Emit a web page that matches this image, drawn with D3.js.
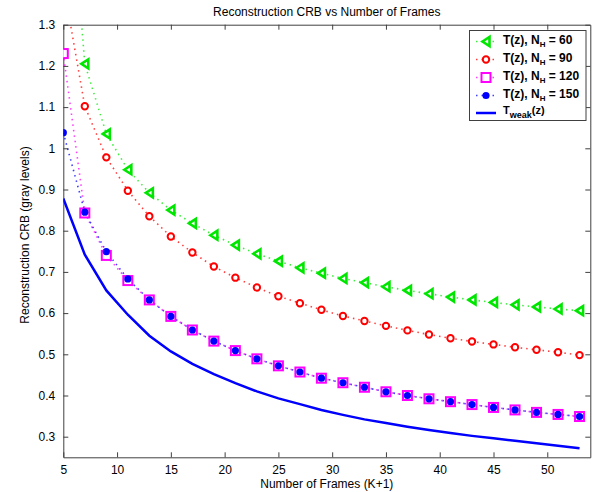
<!DOCTYPE html>
<meta charset="utf-8">
<style>
body { margin: 0; background: #fff; }
svg text { font-family: "Liberation Sans", Arial, sans-serif; fill: #000; }
.axis path, .axis line { stroke: #404040; }
.axis text { font-size: 12px; }
</style>
<svg width="598" height="492"></svg>
<script src="https://d3js.org/d3.v7.min.js"></script>
<script>
// data
const frames = [5, 7, 9, 11, 13, 15, 17, 19, 21, 23, 25, 27, 29, 31, 33, 35, 37, 39, 41, 43, 45, 47, 49, 51, 53];
const nh60  = [1.85, 1.205, 1.035, 0.948, 0.892, 0.850, 0.818, 0.789, 0.765, 0.744, 0.726, 0.710, 0.697, 0.684, 0.674, 0.664, 0.655, 0.647, 0.639, 0.632, 0.626, 0.620, 0.615, 0.610, 0.606];
const nh90  = [1.40, 1.102, 0.978, 0.897, 0.835, 0.786, 0.747, 0.713, 0.686, 0.662, 0.641, 0.624, 0.608, 0.593, 0.581, 0.569, 0.558, 0.548, 0.539, 0.531, 0.524, 0.517, 0.511, 0.505, 0.498];
const nh120 = [1.23, 0.843, 0.740, 0.679, 0.632, 0.592, 0.559, 0.532, 0.509, 0.489, 0.472, 0.457, 0.442, 0.431, 0.420, 0.409, 0.400, 0.392, 0.385, 0.378, 0.371, 0.365, 0.359, 0.354, 0.349];
const nh150 = [1.038, 0.845, 0.749, 0.683, 0.632, 0.592, 0.559, 0.532, 0.509, 0.489, 0.472, 0.457, 0.442, 0.431, 0.420, 0.409, 0.400, 0.392, 0.385, 0.378, 0.371, 0.365, 0.359, 0.354, 0.349];
const weak  = [0.878, 0.742, 0.655, 0.596, 0.545, 0.507, 0.477, 0.452, 0.430, 0.410, 0.393, 0.379, 0.365, 0.353, 0.342, 0.333, 0.324, 0.316, 0.309, 0.302, 0.296, 0.290, 0.284, 0.278, 0.272];
const xTicks = [5, 10, 15, 20, 25, 30, 35, 40, 45, 50];
const yTicks = [0.3, 0.4, 0.5, 0.6, 0.7, 0.8, 0.9, 1, 1.1, 1.2, 1.3];

const series = [
  {name: "60",  values: nh60,  color: "#00e600", marker: "tri"},
  {name: "90",  values: nh90,  color: "#ff0000", marker: "circle"},
  {name: "120", values: nh120, color: "#ff00ff", marker: "square"},
  {name: "150", values: nh150, color: "#0000ff", marker: "dot"}
];

const svg = d3.select("svg");
const pLeft = 63.3, pRight = 590.3, pTop = 24.7, pBottom = 457.3;

const x = d3.scaleLinear().domain([5, 54]).range([pLeft, pRight]);
const y = d3.scaleLinear().domain([0.25, 1.3]).range([pBottom, pTop]);

svg.append("defs").append("clipPath").attr("id", "clip")
  .append("rect").attr("x", pLeft).attr("y", pTop).attr("width", pRight - pLeft).attr("height", pBottom - pTop);

// axes, matlab style box with inward ticks
svg.append("g").attr("class", "axis").attr("transform", "translate(0," + pBottom + ")")
  .call(d3.axisBottom(x).tickValues(xTicks).tickSizeInner(-5).tickSizeOuter(0).tickPadding(8).tickFormat(d3.format("d")));
svg.append("g").attr("class", "axis").attr("transform", "translate(" + pLeft + ",0)")
  .call(d3.axisLeft(y).tickValues(yTicks).tickSizeInner(-5).tickSizeOuter(0).tickPadding(8).tickFormat(d => d3.format("~g")(d)));
svg.append("g").attr("class", "axis").attr("transform", "translate(0," + pTop + ")")
  .call(d3.axisTop(x).tickValues(xTicks).tickSizeInner(-5).tickSizeOuter(0).tickFormat(""));
svg.append("g").attr("class", "axis").attr("transform", "translate(" + pRight + ",0)")
  .call(d3.axisRight(y).tickValues(yTicks).tickSizeInner(-5).tickSizeOuter(0).tickFormat(""));

const plot = svg.append("g").attr("clip-path", "url(#clip)");

function drawMarker(g, type, color) {
  if (type === "tri") {
    g.append("path").attr("d", "M-3.5,0L3.5,-4.5L3.5,4.5Z")
      .attr("fill", "#fff").attr("stroke", color).attr("stroke-width", 2.6).attr("stroke-linejoin", "miter");
  } else if (type === "circle") {
    g.append("circle").attr("r", 3.2).attr("fill", "#fff").attr("stroke", color).attr("stroke-width", 2);
  } else if (type === "square") {
    g.append("rect").attr("x", -4.5).attr("y", -4.5).attr("width", 9).attr("height", 9)
      .attr("fill", "#fff").attr("stroke", color).attr("stroke-width", 2);
  } else {
    g.append("circle").attr("r", 3.6).attr("fill", color);
  }
}

const line = d3.line().x((d, i) => x(frames[i])).y(d => y(d));

series.forEach(s => {
  plot.append("path").datum(s.values)
    .attr("fill", "none").attr("stroke", s.color).attr("stroke-width", 1.6)
    .attr("stroke-dasharray", "1.5,4").attr("opacity", 0.75)
    .attr("d", line);
});
series.forEach(s => {
  s.values.forEach((v, i) => {
    if (v > 1.3) return;
    const g = plot.append("g").attr("transform", "translate(" + x(frames[i]) + "," + y(v) + ")");
    drawMarker(g, s.marker, s.color);
  });
});

plot.append("path").datum(weak)
  .attr("fill", "none").attr("stroke", "#0000ff").attr("stroke-width", 2.5)
  .attr("d", line);

// titles
svg.append("text").attr("x", (pLeft + pRight) / 2).attr("y", 16).attr("text-anchor", "middle")
  .attr("font-size", 12).text("Reconstruction CRB vs Number of Frames");
svg.append("text").attr("x", (pLeft + pRight) / 2).attr("y", 488).attr("text-anchor", "middle")
  .attr("font-size", 12).text("Number of Frames (K+1)");
svg.append("text").attr("transform", "translate(29," + ((pTop + pBottom) / 2 - 6) + ") rotate(-90)")
  .attr("text-anchor", "middle").attr("font-size", 12).text("Reconstruction CRB (gray levels)");

// legend
const lg = svg.append("g");
lg.append("rect").attr("x", 469.5).attr("y", 30.5).attr("width", 116.5).attr("height", 90)
  .attr("fill", "#fff").attr("stroke", "#404040").attr("stroke-width", 1);
const rowY = [41.5, 59.5, 77.5, 95.5, 113];
series.forEach((s, i) => {
  const yy = rowY[i];
  lg.append("line").attr("x1", 476).attr("x2", 496).attr("y1", yy).attr("y2", yy)
    .attr("stroke", s.color).attr("stroke-width", 1.6).attr("stroke-dasharray", "1.5,4").attr("opacity", 0.75);
  drawMarker(lg.append("g").attr("transform", "translate(486," + yy + ")"), s.marker, s.color);
  const t = lg.append("text").attr("x", 503).attr("y", yy + 2).attr("font-size", 12).attr("font-weight", "bold");
  t.append("tspan").text("T(z), N");
  t.append("tspan").attr("font-size", 8).attr("dy", 3).text("H");
  t.append("tspan").attr("dy", -3).text(" = " + s.name);
});
lg.append("line").attr("x1", 476).attr("x2", 496).attr("y1", rowY[4]).attr("y2", rowY[4])
  .attr("stroke", "#0000ff").attr("stroke-width", 2.5);
const tw = lg.append("text").attr("x", 503).attr("y", rowY[4] + 1).attr("font-size", 11).attr("font-weight", "bold");
tw.append("tspan").text("T");
tw.append("tspan").attr("font-size", 9).attr("dy", 4).text("weak");
tw.append("tspan").attr("dy", -4).text("(z)");
</script>
